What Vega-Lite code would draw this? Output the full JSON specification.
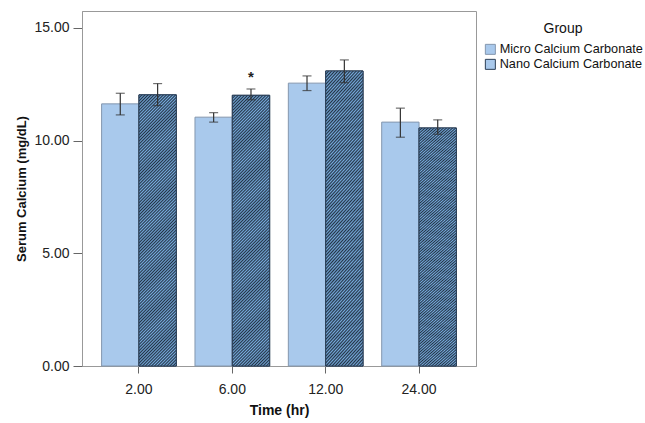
{
  "$schema": "https://vega.github.io/schema/vega-lite/v6.json",
  "width": 394,
  "height": 355,
  "autosize": {"type": "none"},
  "padding": {"left": 82, "top": 11, "right": 169, "bottom": 57},
  "background": "white",
  "config": {
    "font": "Liberation Sans",
    "view": {"stroke": "#999", "strokeWidth": 1},
    "axis": {
      "grid": false,
      "domainColor": "#999",
      "tickColor": "#666",
      "labelColor": "#222",
      "titleColor": "#111",
      "labelFontSize": 14,
      "labelFontWeight": "normal",
      "titleFontWeight": "bold"
    }
  },
  "datasets": {
    "bars": [
      {"time": "2.00", "group": "Micro Calcium Carbonate", "mean": 11.63, "lo": 11.14, "hi": 12.10},
      {"time": "2.00", "group": "Nano Calcium Carbonate", "mean": 12.03, "lo": 11.55, "hi": 12.53},
      {"time": "6.00", "group": "Micro Calcium Carbonate", "mean": 11.04, "lo": 10.82, "hi": 11.24},
      {"time": "6.00", "group": "Nano Calcium Carbonate", "mean": 12.01, "lo": 11.81, "hi": 12.29},
      {"time": "12.00", "group": "Micro Calcium Carbonate", "mean": 12.55, "lo": 12.22, "hi": 12.87},
      {"time": "12.00", "group": "Nano Calcium Carbonate", "mean": 13.09, "lo": 12.57, "hi": 13.58},
      {"time": "24.00", "group": "Micro Calcium Carbonate", "mean": 10.82, "lo": 10.15, "hi": 11.44},
      {"time": "24.00", "group": "Nano Calcium Carbonate", "mean": 10.56, "lo": 10.28, "hi": 10.92}
    ],
    "notes": [
      {"time": "6.00", "group": "Nano Calcium Carbonate", "note": "*", "y": 12.8}
    ]
  },
  "encoding": {
    "x": {
      "field": "time", "type": "nominal", "sort": null,
      "scale": {"paddingInner": 0.2, "paddingOuter": 0.21},
      "axis": {"title": "Time (hr)", "labelAngle": 0, "tickSize": 7, "labelPadding": 9, "titleFontSize": 14, "titlePadding": 7}
    },
    "xOffset": {
      "field": "group", "type": "nominal", "sort": null,
      "scale": {"paddingInner": 0, "paddingOuter": 0}
    }
  },
  "layer": [
    {
      "data": {"name": "bars"},
      "mark": {"type": "bar", "strokeWidth": 1},
      "encoding": {
        "y": {
          "field": "mean", "type": "quantitative",
          "scale": {"domain": [0, 15.75], "nice": false, "zero": true},
          "axis": {"title": "Serum Calcium (mg/dL)", "values": [0, 5, 10, 15], "format": ".2f", "tickSize": 9, "labelPadding": 4, "titleFontSize": 13, "titlePadding": 5}
        },
        "color": {
          "condition": {"test": "datum.group === 'Nano Calcium Carbonate'", "value": "#4c6f99"},
          "value": "#a9c9ec"
        },
        "stroke": {
          "field": "group", "type": "nominal", "sort": null,
          "scale": {"domain": ["Micro Calcium Carbonate", "Nano Calcium Carbonate"], "range": ["#8497ae", "#2b3f57"]},
          "legend": {
            "title": "Group",
            "orient": "none",
            "legendX": 402,
            "legendY": 11,
            "padding": 0,
            "titleFontSize": 14,
            "titleFontWeight": "normal",
            "titleColor": "#111",
            "titleAnchor": "middle",
            "titlePadding": 7,
            "labelFontSize": 12.7,
            "labelColor": "#111",
            "labelLimit": 0,
            "labelOffset": 3,
            "rowPadding": 0,
            "symbolType": "square",
            "symbolSize": 100,
            "symbolStrokeWidth": 1,
            "encode": {
              "symbols": {
                "update": {
                  "strokeWidth": {"value": 1},
                  "opacity": {"value": 1},
                  "fill": [
                    {
                      "test": "datum.value === 'Nano Calcium Carbonate'",
                      "value": {
                        "gradient": "linear", "x1": 0, "y1": 0, "x2": 1, "y2": 1,
                        "stops": [
                          {"offset": 0, "color": "#234"}, {"offset": 0.125, "color": "#7ad"},
                          {"offset": 0.25, "color": "#234"}, {"offset": 0.375, "color": "#7ad"},
                          {"offset": 0.5, "color": "#234"}, {"offset": 0.625, "color": "#7ad"},
                          {"offset": 0.75, "color": "#234"}, {"offset": 0.875, "color": "#7ad"},
                          {"offset": 1, "color": "#234"}
                        ]
                      }
                    },
                    {"value": "#a9c9ec"}
                  ]
                }
              }
            }
          }
        }
      }
    },
    {
      "data": {"name": "bars"},
      "transform": [{"filter": "datum.group === 'Nano Calcium Carbonate'"}],
      "mark": {
        "type": "bar", "stroke": "#2b3f57", "strokeWidth": 1,
        "fill": {
          "gradient": "linear", "x1": 0, "y1": 0, "x2": 0.155, "y2": 1.116,
          "stops": [
{"offset":0,"color":"#234"},{"offset":0.005,"color":"#7ad"},{"offset":0.01,"color":"#234"},{"offset":0.015,"color":"#7ad"},{"offset":0.02,"color":"#234"},{"offset":0.025,"color":"#7ad"},{"offset":0.03,"color":"#234"},{"offset":0.035,"color":"#7ad"},{"offset":0.04,"color":"#234"},{"offset":0.045,"color":"#7ad"},
{"offset":0.05,"color":"#234"},{"offset":0.055,"color":"#7ad"},{"offset":0.06,"color":"#234"},{"offset":0.065,"color":"#7ad"},{"offset":0.07,"color":"#234"},{"offset":0.075,"color":"#7ad"},{"offset":0.08,"color":"#234"},{"offset":0.085,"color":"#7ad"},{"offset":0.09,"color":"#234"},{"offset":0.095,"color":"#7ad"},
{"offset":0.1,"color":"#234"},{"offset":0.105,"color":"#7ad"},{"offset":0.11,"color":"#234"},{"offset":0.115,"color":"#7ad"},{"offset":0.12,"color":"#234"},{"offset":0.125,"color":"#7ad"},{"offset":0.13,"color":"#234"},{"offset":0.135,"color":"#7ad"},{"offset":0.14,"color":"#234"},{"offset":0.145,"color":"#7ad"},
{"offset":0.15,"color":"#234"},{"offset":0.155,"color":"#7ad"},{"offset":0.16,"color":"#234"},{"offset":0.165,"color":"#7ad"},{"offset":0.17,"color":"#234"},{"offset":0.175,"color":"#7ad"},{"offset":0.18,"color":"#234"},{"offset":0.185,"color":"#7ad"},{"offset":0.19,"color":"#234"},{"offset":0.195,"color":"#7ad"},
{"offset":0.2,"color":"#234"},{"offset":0.205,"color":"#7ad"},{"offset":0.21,"color":"#234"},{"offset":0.215,"color":"#7ad"},{"offset":0.22,"color":"#234"},{"offset":0.225,"color":"#7ad"},{"offset":0.23,"color":"#234"},{"offset":0.235,"color":"#7ad"},{"offset":0.24,"color":"#234"},{"offset":0.245,"color":"#7ad"},
{"offset":0.25,"color":"#234"},{"offset":0.255,"color":"#7ad"},{"offset":0.26,"color":"#234"},{"offset":0.265,"color":"#7ad"},{"offset":0.27,"color":"#234"},{"offset":0.275,"color":"#7ad"},{"offset":0.28,"color":"#234"},{"offset":0.285,"color":"#7ad"},{"offset":0.29,"color":"#234"},{"offset":0.295,"color":"#7ad"},
{"offset":0.3,"color":"#234"},{"offset":0.305,"color":"#7ad"},{"offset":0.31,"color":"#234"},{"offset":0.315,"color":"#7ad"},{"offset":0.32,"color":"#234"},{"offset":0.325,"color":"#7ad"},{"offset":0.33,"color":"#234"},{"offset":0.335,"color":"#7ad"},{"offset":0.34,"color":"#234"},{"offset":0.345,"color":"#7ad"},
{"offset":0.35,"color":"#234"},{"offset":0.355,"color":"#7ad"},{"offset":0.36,"color":"#234"},{"offset":0.365,"color":"#7ad"},{"offset":0.37,"color":"#234"},{"offset":0.375,"color":"#7ad"},{"offset":0.38,"color":"#234"},{"offset":0.385,"color":"#7ad"},{"offset":0.39,"color":"#234"},{"offset":0.395,"color":"#7ad"},
{"offset":0.4,"color":"#234"},{"offset":0.405,"color":"#7ad"},{"offset":0.41,"color":"#234"},{"offset":0.415,"color":"#7ad"},{"offset":0.42,"color":"#234"},{"offset":0.425,"color":"#7ad"},{"offset":0.43,"color":"#234"},{"offset":0.435,"color":"#7ad"},{"offset":0.44,"color":"#234"},{"offset":0.445,"color":"#7ad"},
{"offset":0.45,"color":"#234"},{"offset":0.455,"color":"#7ad"},{"offset":0.46,"color":"#234"},{"offset":0.465,"color":"#7ad"},{"offset":0.47,"color":"#234"},{"offset":0.475,"color":"#7ad"},{"offset":0.48,"color":"#234"},{"offset":0.485,"color":"#7ad"},{"offset":0.49,"color":"#234"},{"offset":0.495,"color":"#7ad"},
{"offset":0.5,"color":"#234"},{"offset":0.505,"color":"#7ad"},{"offset":0.51,"color":"#234"},{"offset":0.515,"color":"#7ad"},{"offset":0.52,"color":"#234"},{"offset":0.525,"color":"#7ad"},{"offset":0.53,"color":"#234"},{"offset":0.535,"color":"#7ad"},{"offset":0.54,"color":"#234"},{"offset":0.545,"color":"#7ad"},
{"offset":0.55,"color":"#234"},{"offset":0.555,"color":"#7ad"},{"offset":0.56,"color":"#234"},{"offset":0.565,"color":"#7ad"},{"offset":0.57,"color":"#234"},{"offset":0.575,"color":"#7ad"},{"offset":0.58,"color":"#234"},{"offset":0.585,"color":"#7ad"},{"offset":0.59,"color":"#234"},{"offset":0.595,"color":"#7ad"},
{"offset":0.6,"color":"#234"},{"offset":0.605,"color":"#7ad"},{"offset":0.61,"color":"#234"},{"offset":0.615,"color":"#7ad"},{"offset":0.62,"color":"#234"},{"offset":0.625,"color":"#7ad"},{"offset":0.63,"color":"#234"},{"offset":0.635,"color":"#7ad"},{"offset":0.64,"color":"#234"},{"offset":0.645,"color":"#7ad"},
{"offset":0.65,"color":"#234"},{"offset":0.655,"color":"#7ad"},{"offset":0.66,"color":"#234"},{"offset":0.665,"color":"#7ad"},{"offset":0.67,"color":"#234"},{"offset":0.675,"color":"#7ad"},{"offset":0.68,"color":"#234"},{"offset":0.685,"color":"#7ad"},{"offset":0.69,"color":"#234"},{"offset":0.695,"color":"#7ad"},
{"offset":0.7,"color":"#234"},{"offset":0.705,"color":"#7ad"},{"offset":0.71,"color":"#234"},{"offset":0.715,"color":"#7ad"},{"offset":0.72,"color":"#234"},{"offset":0.725,"color":"#7ad"},{"offset":0.73,"color":"#234"},{"offset":0.735,"color":"#7ad"},{"offset":0.74,"color":"#234"},{"offset":0.745,"color":"#7ad"},
{"offset":0.75,"color":"#234"},{"offset":0.755,"color":"#7ad"},{"offset":0.76,"color":"#234"},{"offset":0.765,"color":"#7ad"},{"offset":0.77,"color":"#234"},{"offset":0.775,"color":"#7ad"},{"offset":0.78,"color":"#234"},{"offset":0.785,"color":"#7ad"},{"offset":0.79,"color":"#234"},{"offset":0.795,"color":"#7ad"},
{"offset":0.8,"color":"#234"},{"offset":0.805,"color":"#7ad"},{"offset":0.81,"color":"#234"},{"offset":0.815,"color":"#7ad"},{"offset":0.82,"color":"#234"},{"offset":0.825,"color":"#7ad"},{"offset":0.83,"color":"#234"},{"offset":0.835,"color":"#7ad"},{"offset":0.84,"color":"#234"},{"offset":0.845,"color":"#7ad"},
{"offset":0.85,"color":"#234"},{"offset":0.855,"color":"#7ad"},{"offset":0.86,"color":"#234"},{"offset":0.865,"color":"#7ad"},{"offset":0.87,"color":"#234"},{"offset":0.875,"color":"#7ad"},{"offset":0.88,"color":"#234"},{"offset":0.885,"color":"#7ad"},{"offset":0.89,"color":"#234"},{"offset":0.895,"color":"#7ad"},
{"offset":0.9,"color":"#234"},{"offset":0.905,"color":"#7ad"},{"offset":0.91,"color":"#234"},{"offset":0.915,"color":"#7ad"},{"offset":0.92,"color":"#234"},{"offset":0.925,"color":"#7ad"},{"offset":0.93,"color":"#234"},{"offset":0.935,"color":"#7ad"},{"offset":0.94,"color":"#234"},{"offset":0.945,"color":"#7ad"},
{"offset":0.95,"color":"#234"},{"offset":0.955,"color":"#7ad"},{"offset":0.96,"color":"#234"},{"offset":0.965,"color":"#7ad"},{"offset":0.97,"color":"#234"},{"offset":0.975,"color":"#7ad"},{"offset":0.98,"color":"#234"},{"offset":0.985,"color":"#7ad"},{"offset":0.99,"color":"#234"},{"offset":0.995,"color":"#7ad"},
{"offset":1,"color":"#234"}
          ]
        }
      },
      "encoding": {
        "y": {"field": "mean", "type": "quantitative"}
      }
    },
    {
      "data": {"name": "bars"},
      "mark": {"type": "rule", "color": "#333", "strokeWidth": 1.2},
      "encoding": {
        "y": {"field": "lo", "type": "quantitative"},
        "y2": {"field": "hi"}
      }
    },
    {
      "data": {"name": "bars"},
      "mark": {"type": "tick", "color": "#333", "thickness": 1.2, "size": 9},
      "encoding": {
        "y": {"field": "lo", "type": "quantitative"}
      }
    },
    {
      "data": {"name": "bars"},
      "mark": {"type": "tick", "color": "#333", "thickness": 1.2, "size": 9},
      "encoding": {
        "y": {"field": "hi", "type": "quantitative"}
      }
    },
    {
      "data": {"name": "notes"},
      "mark": {"type": "text", "fontSize": 15, "fontWeight": "bold", "color": "#222", "baseline": "middle"},
      "encoding": {
        "y": {"field": "y", "type": "quantitative"},
        "text": {"field": "note"}
      }
    }
  ]
}
